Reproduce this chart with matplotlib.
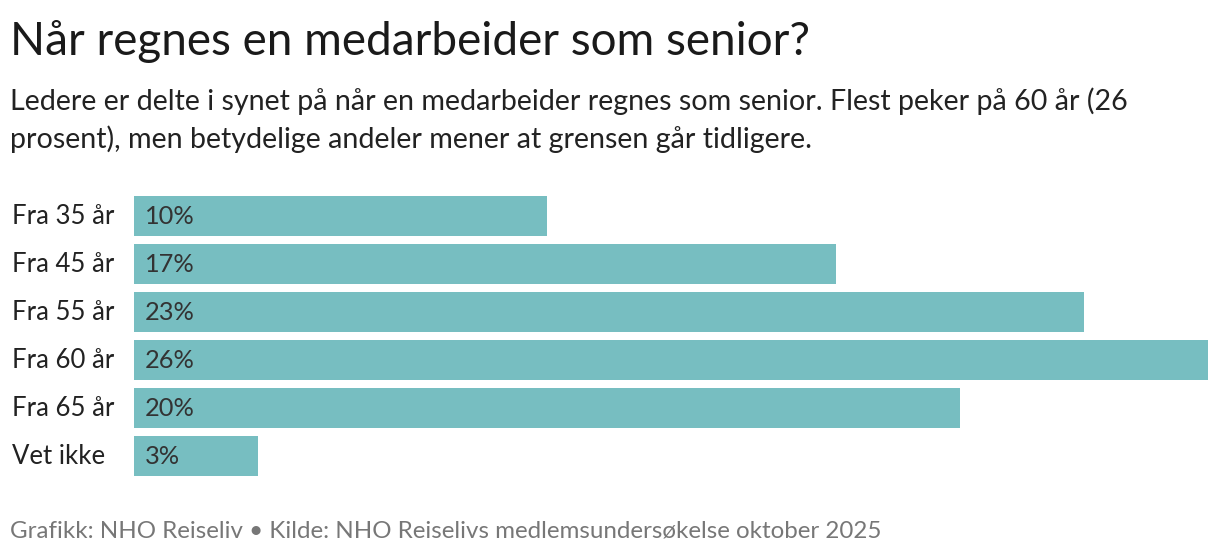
import matplotlib.pyplot as plt

categories = ["Fra 35 år", "Fra 45 år", "Fra 55 år", "Fra 60 år", "Fra 65 år", "Vet ikke"]
values = [10, 17, 23, 26, 20, 3]

title = "Når regnes en medarbeider som senior?"
subtitle_lines = ["Ledere er delte i synet på når en medarbeider regnes som senior. Flest peker på 60 år (26",
                  "prosent), men betydelige andeler mener at grensen går tidligere."]
source = "Grafikk: NHO Reiseliv \u2022 Kilde: NHO Reiselivs medlemsundersøkelse oktober 2025"

plt.rcParams['font.family'] = ['Lato', 'DejaVu Sans']

W, H = 1220, 558
fig = plt.figure(figsize=(W / 100, H / 100), dpi=100)
ax = fig.add_axes([134 / W, 1 - 480 / H, (1208 - 134) / W, (480 - 192) / H])

bar_color = "#77bec1"
pos = list(range(len(categories)))
ax.barh(pos, values, height=40 / 48, color=bar_color)
ax.set_xlim(0, max(values))
ax.set_ylim(len(categories) - 0.5, -0.5)
ax.axis('off')

for i, (c, v) in enumerate(zip(categories, values)):
    ax.annotate(f"{v}%", xy=(0, i), xytext=(8, 0), textcoords='offset points',
                va='center', ha='left', fontsize=18.3, color="#333333")
    fig.text(12 / W, 1 - (216 + 48 * i) / H, c, va='center', ha='left',
             fontsize=18.5, color="#222222")

fig.text(10 / W, 1 - 55 / H, title, fontsize=33, color="#1a1a1a",
         ha='left', va='baseline')
for k, line in enumerate(subtitle_lines):
    fig.text(10 / W, 1 - (110 + 38 * k) / H, line, fontsize=20.6, color="#222222",
             ha='left', va='baseline')
fig.text(10 / W, 1 - 538 / H, source, fontsize=17.4, color="#777777",
         ha='left', va='baseline')

fig.savefig("out.png", dpi=100, facecolor="white")
